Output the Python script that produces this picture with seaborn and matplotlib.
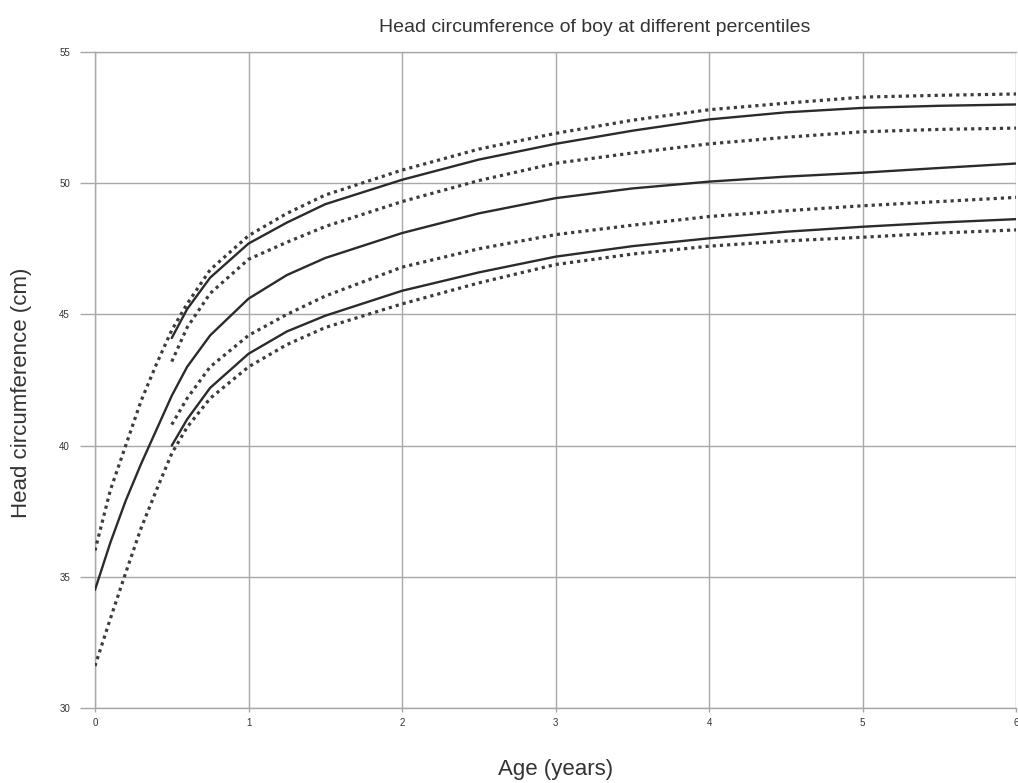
import pandas as pd
import matplotlib
matplotlib.use("Agg")
import matplotlib.pyplot as plt
import seaborn as sns

ages_birth = [0, 0.1, 0.2, 0.3, 0.4, 0.5, 0.6, 0.75, 1, 1.25, 1.5, 2, 2.5, 3, 3.5, 4, 4.5, 5, 5.5, 6]
ages_late = [0.5, 0.6, 0.75, 1, 1.25, 1.5, 2, 2.5, 3, 3.5, 4, 4.5, 5, 5.5, 6]

# curves that start at birth
top_dotted = [36.0, 38.3, 40.0, 41.7, 43.1, 44.4, 45.4, 46.7, 48.0, 48.85, 49.55,
              50.5, 51.3, 51.9, 52.4, 52.8, 53.05, 53.28, 53.35, 53.4]
middle_solid = [34.5, 36.3, 37.9, 39.3, 40.6, 41.9, 43.0, 44.2, 45.6, 46.5, 47.15,
                48.1, 48.85, 49.43, 49.8, 50.06, 50.25, 50.4, 50.58, 50.75]
bottom_dotted = [31.6, 33.4, 35.15, 36.85, 38.3, 39.7, 40.7, 41.8, 43.0, 43.85, 44.5,
                 45.4, 46.2, 46.9, 47.3, 47.6, 47.8, 47.94, 48.1, 48.22]

# curves that start at six months
upper_solid = [44.1, 45.2, 46.4, 47.7, 48.5, 49.2, 50.13, 50.9, 51.5, 52.0, 52.43, 52.7, 52.87, 52.95, 53.0]
upper_dotted = [43.2, 44.5, 45.8, 47.1, 47.75, 48.35, 49.3, 50.1, 50.76, 51.15, 51.5, 51.75, 51.96, 52.05, 52.1]
lower_dotted = [40.8, 41.8, 43.0, 44.2, 45.0, 45.7, 46.8, 47.5, 48.04, 48.4, 48.73, 48.95, 49.14, 49.3, 49.46]
lower_solid = [40.0, 41.0, 42.2, 43.5, 44.35, 44.95, 45.9, 46.6, 47.2, 47.6, 47.9, 48.15, 48.34, 48.5, 48.63]

x_ticks = [0, 1, 2, 3, 4, 5, 6]
y_ticks = [30, 35, 40, 45, 50, 55]


def build_curves() -> list:
    """
    Collects every percentile curve as (DataFrame, style) pairs.
    """
    curves = [
        (ages_birth, top_dotted, "dotted"),
        (ages_birth, middle_solid, "solid"),
        (ages_birth, bottom_dotted, "dotted"),
        (ages_late, upper_solid, "solid"),
        (ages_late, upper_dotted, "dotted"),
        (ages_late, lower_dotted, "dotted"),
        (ages_late, lower_solid, "solid"),
    ]
    return [(pd.DataFrame({"age": a, "hc": v}), s) for a, v, s in curves]


def plot_head_circumference(curves: list):
    """
    Draws the head circumference percentile chart and saves it to out.png.
    """
    sns.set_theme(style="white")
    plt.rcParams["font.family"] = ["Liberation Sans", "DejaVu Sans"]

    fig = plt.figure(figsize=(10.18, 7.83), dpi=100)
    ax = fig.add_axes([0.0933, 0.0958, 0.905, 0.8378])

    for df, style in curves:
        if style == "solid":
            sns.lineplot(data=df, x="age", y="hc", ax=ax, color="#2b2b2b",
                         linewidth=1.7, zorder=3)
        else:
            line = sns.lineplot(data=df, x="age", y="hc", ax=ax, color="#3c3c3c",
                                linewidth=2.3, zorder=3).lines[-1]
            line.set_linestyle((0, (1, 1.25)))

    ax.set_xlim(0, 6)
    ax.set_ylim(30, 55)
    ax.set_xticks(x_ticks)
    ax.set_yticks(y_ticks)
    ax.grid(True, color="#a8a8a8", linewidth=1.0)
    for spine in ax.spines.values():
        spine.set_color("#a8a8a8")
        spine.set_linewidth(1.0)
    ax.spines["right"].set_visible(False)

    ax.tick_params(axis="y", direction="out", length=11, width=1.0, color="#a8a8a8",
                   labelsize=7, labelcolor="#333333", pad=7, left=True)
    ax.tick_params(axis="x", direction="out", length=3, width=1.0, color="#a8a8a8",
                   labelsize=7, labelcolor="#333333", pad=4, bottom=True)

    # title sits a little right of the axes centre in the original
    fig.text(595 / 1018, 1 - 28 / 783, "Head circumference of boy at different percentiles",
             fontsize=14, color="#333333", ha="center", va="center")
    ax.set_xlabel("Age (years)", fontsize=16, color="#333333")
    ax.xaxis.set_label_coords(0.5, -0.077)
    ax.set_ylabel("Head circumference (cm)", fontsize=16, color="#333333")
    ax.yaxis.set_label_coords(-0.068, 0.48)

    fig.savefig("out.png", dpi=100)


if __name__ == "__main__":
    plot_head_circumference(build_curves())
